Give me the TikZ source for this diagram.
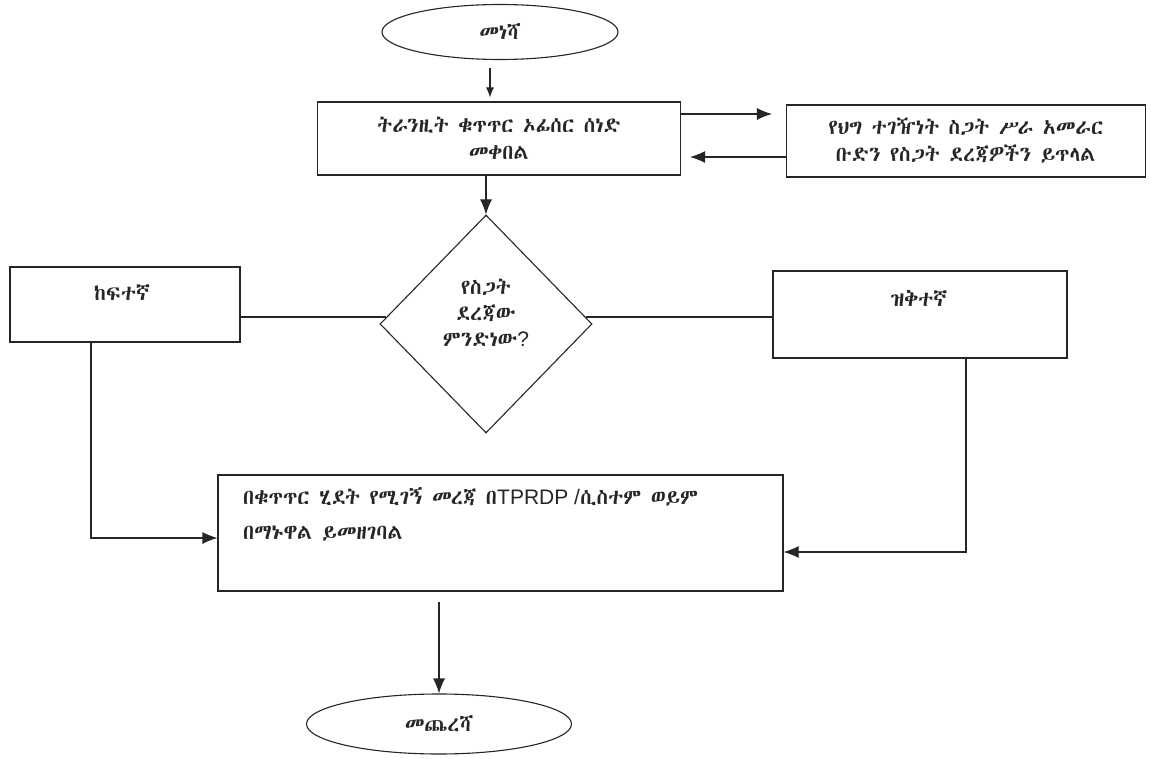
\documentclass[tikz,border=0pt]{standalone}
\usepackage{fontspec}
\usetikzlibrary{shapes.geometric,arrows.meta,calc}
\IfFontExistsTF{Abyssinica SIL}{\newfontfamily\eth{Abyssinica SIL}}{%
  \IfFontExistsTF{FreeSerif}{\newfontfamily\eth{FreeSerif}}{\newfontfamily\eth{DejaVu Sans}}}
\newfontfamily\lat{Liberation Sans}
\definecolor{ink}{HTML}{262626}
\begin{document}
\begin{tikzpicture}[x=1pt,y=-1pt,
  every node/.style={text=ink},
  ln/.style={draw=ink,line width=1.1pt},
  box/.style={ln,rectangle,inner sep=0pt,font=\eth\fontsize{21}{27}\selectfont,align=center},
  term/.style={ln,ellipse,inner sep=0pt,font=\eth\fontsize{21}{27}\selectfont},
  decision/.style={ln,diamond,inner sep=0pt},
  txt/.style={font=\eth\fontsize{21}{26}\selectfont,align=center,inner sep=0pt},
  arr/.style={draw=ink,line width=1.1pt,-{Latex[length=15pt,width=12pt]}},
  sarr/.style={draw=ink,line width=1.1pt,-{Latex[length=10pt,width=8pt]}}]
\fill[white] (0,0) rectangle (1151,759);
\useasboundingbox (0,0) rectangle (1151,759);

\node[term,minimum width=236pt,minimum height=55pt] (start) at (500,32) {መነሻ};
\node[box,minimum width=363pt,minimum height=73pt] (box1) at (499,138.5)
  {ትራንዚት ቁጥጥር ኦፊሰር ሰነድ\\መቀበል};
\node[box,minimum width=359pt,minimum height=72pt] (risk) at (966,141)
  {የህግ ተገዥነት ስጋት ሥራ አመራር\\ቡድን የስጋት ደረጃዎችን ይጥላል};
\node[decision,minimum width=212pt,minimum height=218pt] (dec) at (486,324) {};
\node[txt] (dect) at (486,313) {የስጋት\\ደረጃው\\ምንድነው{\lat ?}};
\node[box,minimum width=230pt,minimum height=75pt] (high) at (125,304.5) {};
\node[txt] (hight) at (122,293) {ከፍተኛ};
\node[box,minimum width=294pt,minimum height=87pt] (low) at (920,314.5) {};
\node[txt] (lowt) at (919,298) {ዝቅተኛ};
\node[box,minimum width=565pt,minimum height=116pt] (main) at (500.5,533) {};
\node[txt,anchor=north west,align=left,font=\eth\fontsize{21}{35}\selectfont] (maint) at (243,487)
  {በቁጥጥር ሂደት የሚገኝ መረጃ በ{\lat TPRDP /}ሲስተም ወይም\\በማኑዋል ይመዘገባል};
\node[term,minimum width=265pt,minimum height=60pt] (end) at (439,724) {መጨረሻ};

\coordinate (dl) at ($(dec.west)!0.064!(dec.north)$);
\coordinate (dr) at ($(dec.east)!0.064!(dec.north)$);

\draw[sarr,shorten <=8pt,shorten >=4pt] ([xshift=-10pt]start.south) -- ([xshift=-9pt]box1.north);
\draw[arr,shorten >=14pt] ([yshift=24.5pt]box1.east) -- ([yshift=24.5pt]box1.east -| risk.west);
\draw[arr,shorten >=9pt] ([yshift=-16pt]risk.west) -- ([yshift=-16pt]risk.west -| box1.east);
\draw[arr] (box1.south -| dec.north) -- (dec.north);
\draw[ln] (high.east |- dl) -- (dl);
\draw[ln] (dr) -- (dr -| low.west);
\draw[arr] ([xshift=-34pt]high.south) |- ([yshift=-5pt]main.west);
\draw[arr] ([xshift=46pt]low.south) |- ([yshift=-19pt]main.east);
\draw[arr,shorten <=10pt] (main.south -| end.north) -- (end.north);
\end{tikzpicture}
\end{document}
